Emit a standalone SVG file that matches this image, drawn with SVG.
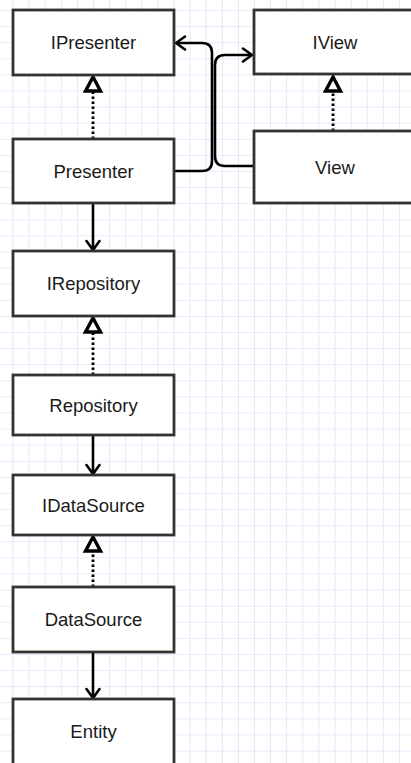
<svg xmlns="http://www.w3.org/2000/svg" width="411" height="763" viewBox="0 0 411 763">
<defs>
<pattern id="grid" patternUnits="userSpaceOnUse" x="12.5" y="10" width="16.1" height="16.1">
<path d="M0,0 H16.1 M0,0 V16.1" fill="none" stroke="#e3e1f9" stroke-width="1.6"/>
</pattern>
<marker id="open" markerUnits="userSpaceOnUse" markerWidth="14" markerHeight="16" viewBox="0 0 14 16" refX="12" refY="8" orient="auto">
<path d="M3,1.5 L12,8 L3,14.5" fill="none" stroke="#000" stroke-width="2.6" stroke-linejoin="round" stroke-linecap="round"/>
</marker>
<marker id="tri" markerUnits="userSpaceOnUse" markerWidth="20" markerHeight="22" viewBox="0 0 20 22" refX="17" refY="11" orient="auto">
<path d="M3,3.5 L17,11 L3,18.5 Z" fill="#fff" stroke="#000" stroke-width="3.4" stroke-linejoin="miter"/>
</marker>
<style>
.box{fill:#fff;stroke:#333;stroke-width:2.8}
.lbl{font-family:"Liberation Sans",Arial,sans-serif;font-size:18.5px;fill:#1a1a1a;text-anchor:middle}
.dep{fill:none;stroke:#000;stroke-width:2.6;marker-end:url(#open)}
.real{fill:none;stroke:#000;stroke-width:2.8;stroke-dasharray:2.5 2.5;marker-end:url(#tri)}
</style>
</defs>
<rect x="0" y="0" width="411" height="763" fill="#fff"/>
<rect x="0" y="0" width="411" height="763" fill="url(#grid)"/>

<g id="connectors">
<path class="real" d="M93,139 V77"/>
<path class="real" d="M333,131 V77"/>
<path class="real" d="M93,375 V318"/>
<path class="real" d="M93,587 V537"/>
<path class="dep" d="M93,203 V250"/>
<path class="dep" d="M93,435 V474"/>
<path class="dep" d="M93,652 V698"/>
<path class="dep" d="M174,171 H202 Q212,171 212,161 V53 Q212,43 202,43 H176"/>
<path class="dep" d="M254,166 H225 Q215,166 215,156 V65 Q215,55 225,55 H252"/>
</g>

<g id="IPresenter"><rect class="box" x="13" y="10" width="161" height="65"/><text class="lbl" x="93.5" y="49">IPresenter</text></g>
<g id="Presenter"><rect class="box" x="13" y="139" width="161" height="64"/><text class="lbl" x="93.5" y="177.5">Presenter</text></g>
<g id="IView"><rect class="box" x="254" y="10" width="162" height="64"/><text class="lbl" x="335" y="48.5">IView</text></g>
<g id="View"><rect class="box" x="254" y="131" width="162" height="72"/><text class="lbl" x="335" y="173.5">View</text></g>
<g id="IRepository"><rect class="box" x="13" y="251" width="161" height="65"/><text class="lbl" x="93.5" y="290">IRepository</text></g>
<g id="Repository"><rect class="box" x="13" y="375" width="161" height="60"/><text class="lbl" x="93.5" y="411.5">Repository</text></g>
<g id="IDataSource"><rect class="box" x="13" y="475" width="161" height="60"/><text class="lbl" x="93.5" y="511.5">IDataSource</text></g>
<g id="DataSource"><rect class="box" x="13" y="587" width="161" height="65"/><text class="lbl" x="93.5" y="626">DataSource</text></g>
<g id="Entity"><rect class="box" x="13" y="699" width="161" height="66"/><text class="lbl" x="93.5" y="738">Entity</text></g>
</svg>
